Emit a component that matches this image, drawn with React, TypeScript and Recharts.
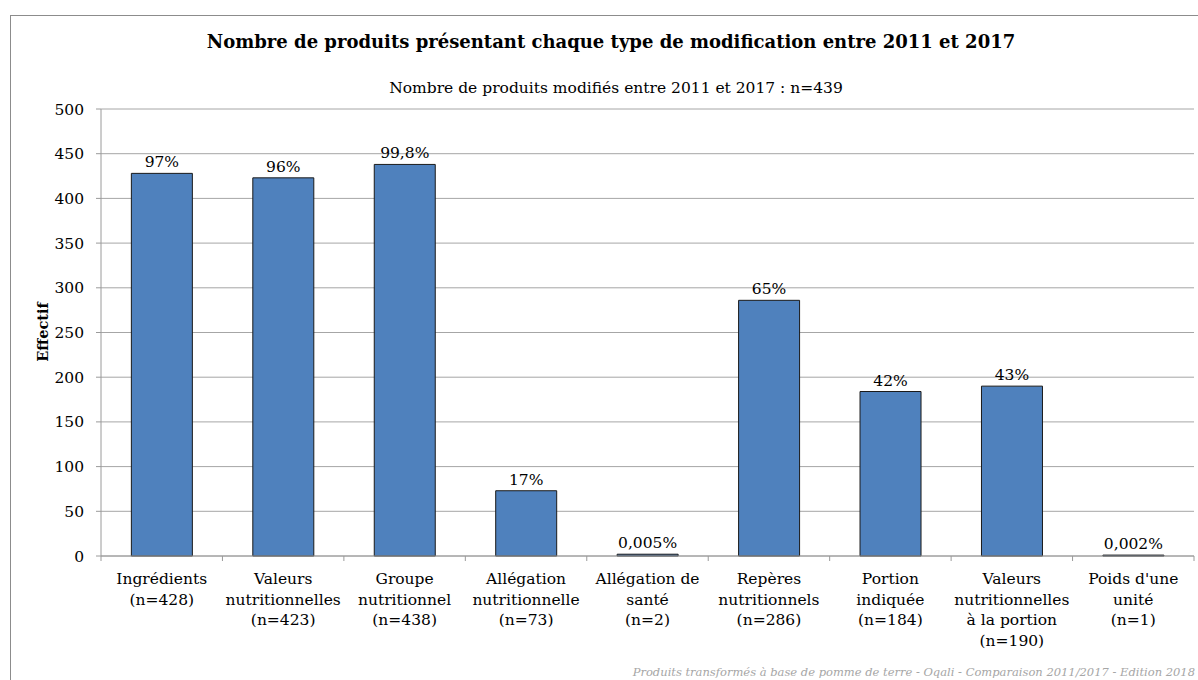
import React from 'react';
import { BarChart, Bar, XAxis, YAxis, CartesianGrid, LabelList } from 'recharts';

const categories = [
  "Ingrédients\n(n=428)",
  "Valeurs\nnutritionnelles\n(n=423)",
  "Groupe\nnutritionnel\n(n=438)",
  "Allégation\nnutritionnelle\n(n=73)",
  "Allégation de\nsanté\n(n=2)",
  "Repères\nnutritionnels\n(n=286)",
  "Portion\nindiquée\n(n=184)",
  "Valeurs\nnutritionnelles\nà la portion\n(n=190)",
  "Poids d'une\nunité\n(n=1)",
];
const counts = [428, 423, 438, 73, 2, 286, 184, 190, 1];
const percentLabels = ["97%", "96%", "99,8%", "17%", "0,005%", "65%", "42%", "43%", "0,002%"];
const yTicks = [0, 50, 100, 150, 200, 250, 300, 350, 400, 450, 500];

const data = categories.map((c, i) => ({ name: c, value: counts[i], pct: percentLabels[i] }));

const FONT = "'DejaVu Serif', 'Liberation Serif', serif";

const XTick = (props: any) => {
  const { x, y, payload, index } = props;
  const lines = String(payload.value).split('\n');
  const half = payload.offset ?? 60.7;
  return (
    <g>
      <line x1={x - half} x2={x - half} y1={y} y2={y + 5} stroke="#9a9a9a" />
      {index === categories.length - 1 && (
        <line x1={x + half} x2={x + half} y1={y} y2={y + 5} stroke="#9a9a9a" />
      )}
      <text x={x} y={y + 28} textAnchor="middle" fill="#000" fontSize={15.5} fontFamily={FONT}>
        {lines.map((l, i) => (
          <tspan key={i} x={x} dy={i === 0 ? 0 : 20.5}>{l}</tspan>
        ))}
      </text>
    </g>
  );
};

export default function App() {
  return (
    <div style={{ position: 'fixed', left: 0, top: 0, width: 1198, height: 680, overflow: 'hidden', background: '#fff', fontFamily: FONT }}>
      <div style={{ position: 'absolute', left: 10, top: 15, width: 1210, height: 700, border: '1px solid #8c8c8c', boxSizing: 'border-box' }} />
      <div style={{ position: 'absolute', left: 0, top: 31, width: 1222, textAlign: 'center', fontWeight: 'bold', fontSize: 18, color: '#000' }}>
        Nombre de produits présentant chaque type de modification entre 2011 et 2017
      </div>
      <div style={{ position: 'absolute', left: 0, top: 79, width: 1232, textAlign: 'center', fontSize: 15.5, color: '#000' }}>
        Nombre de produits modifiés entre 2011 et 2017 : n=439
      </div>
      <div style={{ position: 'absolute', left: 42, top: 332, width: 0, height: 0 }}>
        <div style={{ position: 'absolute', transform: 'translate(-50%, -50%) rotate(-90deg)', fontWeight: 'bold', fontSize: 14.5, whiteSpace: 'nowrap' }}>Effectif</div>
      </div>
      <div style={{ position: 'absolute', right: 3, top: 665, whiteSpace: 'nowrap', fontStyle: 'italic', fontSize: 11.5, color: '#a6a6a6' }}>
        Produits transformés à base de pomme de terre - Oqali - Comparaison 2011/2017 - Edition 2018
      </div>
      <div style={{ position: 'absolute', left: 0, top: 0 }}>
        <BarChart width={1198} height={680} data={data} margin={{ top: 109, right: 4, bottom: 24, left: 41 }} barCategoryGap="25%">
          <CartesianGrid vertical={false} stroke="#a6a6a6" />
          <XAxis
            dataKey="name"
            interval={0}
            height={100}
            stroke="#9a9a9a"
            tickLine={false}
            tickSize={0}
            tickMargin={0}
            tick={<XTick />}
          />
          <YAxis
            width={60}
            domain={[0, 500]}
            ticks={yTicks}
            interval={0}
            stroke="#9a9a9a"
            tickSize={5}
            tickMargin={12}
            tick={{ fill: '#000', fontSize: 15.5, fontFamily: FONT }}
          />
          <Bar dataKey="value" fill="#4f81bd" stroke="#1a1a1a" strokeWidth={1} isAnimationActive={false}>
            <LabelList dataKey="pct" position="top" offset={6} fill="#000" fontSize={15.5} fontFamily={FONT} />
          </Bar>
        </BarChart>
      </div>
    </div>
  );
}
